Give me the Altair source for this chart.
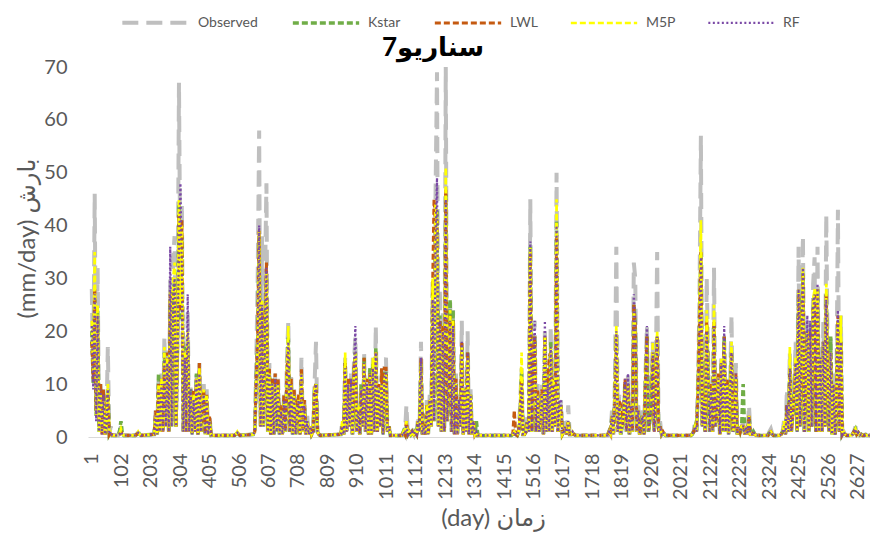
import altair as alt
import pandas as pd

SERIES = ["Observed", "Kstar", "LWL", "M5P", "RF"]
COLORS = ["#BFBFBF", "#70AD47", "#C55A11", "#FFFF00", "#7B4AA6"]
DASHES = [[16, 8], [6, 3], [6, 3], [6, 3], [2, 2.5]]
WIDTHS = [4, 2.25, 2.25, 2.25, 2.5]
X_TICKS = [1, 102, 203, 304, 405, 506, 607, 708, 809, 910, 1011, 1112, 1213, 1314,
           1415, 1516, 1617, 1718, 1819, 1920, 2021, 2122, 2223, 2324, 2425, 2526, 2627]
Y_TICKS = [0, 10, 20, 30, 40, 50, 60, 70]
STEP = 5  # sampling step (days) of the value lists below

# ---- wet season 1 (from day 1)
S1 = 1
OBS1 = [28, 12, 46, 5, 32, 2, 10, 1, 9, 0.5, 3, 17, 0.5, 2, 0.3]
KST1 = [20, 10, 26, 4, 24, 1, 9, 1, 8, 0.5, 2, 9, 0.5, 1, 0.3]
LWL1 = [18, 11, 28, 5, 22, 2, 10, 0.5, 9, 0.5, 2, 8, 0.5, 1, 0.3]
M5P1 = [22, 12, 35, 4, 25, 1, 8, 1, 7, 0.5, 2, 10, 1, 1, 0.3]
RF1 = [21, 9, 27, 3, 23, 1, 9, 0.5, 8, 0.5, 2, 9, 0.5, 1, 0.3]

# ---- small events in dry spells
SA = 91
OBSA = [0.3, 1, 2, 0.5, 0.3]
KSTA = [0.3, 1, 3, 0.5, 0.3]
LWLA = [0.3, 0.5, 1, 0.5, 0.3]
M5PA = [0.3, 0.5, 1.5, 0.5, 0.3]
RFA = [0.3, 0.5, 1, 0.5, 0.3]

SB = 150
OBSB = [0.3, 0.5, 1, 0.5, 0.3]
KSTB = [0.3, 0.5, 1, 0.5, 0.3]
LWLB = [0.3, 0.5, 0.8, 0.5, 0.3]
M5PB = [0.3, 0.5, 1, 0.5, 0.3]
RFB = [0.3, 0.5, 0.8, 0.5, 0.3]

# ---- wet season 2
S2 = 215
OBS2 = [0.5, 5, 0.5, 11, 1, 12, 1, 19, 2, 17, 1, 30, 3, 34, 38, 2, 20, 67, 28, 44,
        1, 18, 1, 24, 1, 10, 0.5, 9, 1, 12, 0.5, 14, 1, 7, 10, 0.5, 9, 0.5, 4, 0.3]
KST2 = [0.5, 4, 0.5, 12, 1, 10, 1, 16, 2, 15, 1, 26, 2, 28, 29, 2, 18, 44, 22, 38,
        1, 17, 1, 18, 1, 9, 0.5, 8, 1, 12, 0.5, 12, 1, 6, 8, 0.5, 7, 0.5, 3, 0.3]
LWL2 = [0.5, 5, 0.5, 10, 1, 11, 1, 14, 2, 16, 1, 27, 3, 27, 28, 2, 16, 42, 24, 41,
        1, 15, 1, 17, 1, 8, 0.5, 9, 1, 11, 0.5, 14, 1, 7, 9, 0.5, 8, 0.5, 4, 0.3]
M5P2 = [0.5, 4, 0.5, 10, 1, 11, 1, 17, 2, 15, 1, 28, 2, 30, 33, 2, 17, 45, 25, 40,
        1, 16, 1, 20, 1, 8, 0.5, 8, 1, 11, 0.5, 13, 1, 6, 9, 0.5, 8, 0.5, 3, 0.3]
RF2 = [0.5, 4, 0.5, 9, 1, 10, 1, 15, 2, 14, 1, 36, 2, 26, 30, 2, 16, 36, 48, 30,
       1, 15, 1, 27, 1, 9, 0.5, 7, 1, 11, 0.5, 12, 1, 6, 8, 0.5, 7, 0.5, 3, 0.3]

SC = 490
OBSC = [0.3, 0.5, 1, 0.5, 0.3]
KSTC = [0.3, 0.5, 0.8, 0.5, 0.3]
LWLC = [0.3, 0.5, 0.8, 0.5, 0.3]
M5PC = [0.3, 0.5, 1, 0.5, 0.3]
RFC = [0.3, 0.5, 0.8, 0.5, 0.3]

# ---- wet season 3
S3 = 555
OBS3 = [0.5, 1, 14, 30, 58, 2, 38, 3, 30, 48, 1, 14, 0.5, 11, 0.5, 12, 1, 11, 0.5, 6,
        0.5, 8, 1, 14, 22, 1, 12, 0.5, 9, 0.5, 6, 8, 0.5, 15, 1, 7, 0.5, 4, 0.5, 2,
        0.5, 1, 10, 18, 1, 0.5, 0.3]
KST3 = [0.5, 1, 11, 18, 38, 2, 24, 2, 20, 30, 1, 12, 0.5, 11, 0.5, 11, 1, 10, 0.5, 5,
        0.5, 7, 1, 11, 19, 1, 10, 0.5, 8, 0.5, 5, 7, 0.5, 11, 1, 6, 0.5, 3, 0.5, 2,
        0.5, 1, 9, 10, 1, 0.5, 0.3]
LWL3 = [0.5, 1, 11, 19, 39, 2, 24, 3, 21, 33, 1, 13, 0.5, 11, 0.5, 12, 1, 11, 0.5, 6,
        0.5, 8, 1, 12, 17, 1, 11, 0.5, 9, 0.5, 6, 8, 0.5, 13, 1, 7, 0.5, 3, 0.5, 2,
        0.5, 1, 9, 10, 1, 0.5, 0.3]
M5P3 = [0.5, 1, 10, 17, 39, 2, 26, 2, 19, 31, 1, 12, 0.5, 10, 0.5, 10, 1, 10, 0.5, 5,
        0.5, 7, 1, 12, 21, 1, 10, 0.5, 8, 0.5, 5, 7, 0.5, 12, 1, 6, 0.5, 3, 0.5, 2,
        0.5, 1, 9, 10, 1, 0.5, 0.3]
RF3 = [0.5, 1, 10, 18, 40, 2, 25, 2, 20, 32, 1, 12, 0.5, 10, 0.5, 11, 1, 10, 0.5, 5,
       0.5, 7, 1, 11, 18, 1, 10, 0.5, 8, 0.5, 5, 7, 0.5, 12, 1, 6, 0.5, 3, 0.5, 2,
       0.5, 1, 8, 10, 1, 0.5, 0.3]

# ---- wet season 4
S4 = 855
OBS4 = [0.5, 3, 0.5, 15, 1, 11, 2, 12, 0.5, 14, 19, 1, 6, 0.5, 10, 2, 16, 1, 11, 0.5,
        13, 0.5, 15, 1, 21, 1, 10, 2, 12, 0.5, 14, 15, 1, 2, 0.3]
KST4 = [0.5, 2, 0.5, 14, 1, 10, 2, 11, 0.5, 12, 16, 1, 5, 0.5, 10, 2, 15, 1, 10, 0.5,
        13, 0.5, 14, 1, 17, 1, 9, 2, 11, 0.5, 12, 12, 1, 2, 0.3]
LWL4 = [0.5, 2, 0.5, 14, 1, 11, 2, 11, 0.5, 13, 15, 1, 5, 0.5, 9, 2, 15, 1, 11, 0.5,
        12, 0.5, 13, 1, 16, 1, 10, 2, 13, 0.5, 13, 13, 1, 2, 0.3]
M5P4 = [0.5, 3, 0.5, 16, 1, 10, 2, 10, 0.5, 12, 16, 1, 6, 0.5, 9, 2, 14, 1, 10, 0.5,
        12, 0.5, 15, 1, 16, 1, 9, 2, 10, 0.5, 11, 12, 1, 2, 0.3]
RF4 = [0.5, 2, 0.5, 13, 1, 10, 2, 11, 0.5, 12, 21, 1, 5, 0.5, 9, 2, 14, 1, 10, 0.5,
       12, 0.5, 13, 1, 16, 1, 9, 2, 10, 0.5, 12, 12, 1, 2, 0.3]

# ---- wet season 5
S5 = 1065
OBS5 = [0.3, 1, 0.5, 6, 0.5, 1, 0.5, 1, 0.5, 2, 0.5, 4, 1, 18, 0.5, 2, 0.5, 7, 0.5, 8,
        2, 30, 3, 46, 69, 2, 28, 1, 24, 1, 70, 3, 12, 26, 1, 24, 0.5, 12, 0.5, 8,
        2, 22, 0.5, 10, 1, 20, 0.5, 9, 0.5, 3, 0.5, 1, 0.3]
KST5 = [0.3, 1, 0.5, 2, 0.5, 1, 0.5, 1, 0.5, 1, 0.5, 3, 1, 14, 0.5, 2, 0.5, 6, 0.5, 7,
        2, 27, 3, 41, 43, 2, 23, 1, 20, 1, 46, 3, 10, 26, 1, 24, 0.5, 10, 0.5, 7,
        2, 17, 0.5, 9, 1, 16, 0.5, 8, 0.5, 3, 0.5, 3, 0.3]
LWL5 = [0.3, 1, 0.5, 3, 0.5, 1, 0.5, 1, 0.5, 1, 0.5, 3, 1, 15, 0.5, 2, 0.5, 6, 0.5, 7,
        2, 28, 45, 40, 41, 2, 22, 1, 21, 1, 47, 3, 11, 23, 1, 22, 0.5, 11, 0.5, 7,
        2, 18, 0.5, 9, 1, 16, 0.5, 8, 0.5, 3, 0.5, 1, 0.3]
M5P5 = [0.3, 1, 0.5, 3, 0.5, 1, 0.5, 1, 0.5, 1, 0.5, 3, 1, 14, 0.5, 2, 0.5, 6, 0.5, 7,
        2, 30, 3, 44, 42, 2, 21, 1, 20, 1, 51, 3, 10, 24, 1, 22, 0.5, 10, 0.5, 7,
        2, 17, 0.5, 9, 1, 15, 0.5, 8, 0.5, 3, 0.5, 1, 0.3]
RF5 = [0.3, 1, 0.5, 2, 0.5, 1, 0.5, 1, 0.5, 1, 0.5, 3, 1, 15, 0.5, 2, 0.5, 5, 0.5, 7,
       2, 26, 3, 38, 49, 2, 22, 1, 20, 1, 45, 3, 10, 22, 1, 21, 0.5, 10, 0.5, 7,
       2, 18, 0.5, 9, 1, 16, 0.5, 8, 0.5, 3, 0.5, 1, 0.3]

# ---- wet season 6
S6 = 1440
OBS6 = [0.3, 0.5, 1, 0.5, 0.3, 1, 6, 13, 0.5, 0.5, 1, 4, 1, 45, 1, 16, 22, 1, 10, 1,
        4, 10, 0.5, 20, 1, 12, 1, 21, 1, 12, 2, 50, 1, 3, 7, 0.5, 1, 3, 0.5, 6,
        0.5, 0.5, 1, 0.5, 0.3]
KST6 = [0.3, 0.5, 1, 0.5, 0.3, 1, 4, 12, 0.5, 0.5, 1, 3, 1, 36, 1, 15, 19, 1, 8, 1,
        3, 8, 0.5, 19, 1, 10, 1, 18, 1, 10, 2, 41, 1, 4, 6, 0.5, 1, 2, 0.5, 3,
        0.5, 0.5, 1, 0.5, 0.3]
LWL6 = [0.3, 0.5, 5, 0.5, 0.3, 1, 4, 11, 0.5, 0.5, 1, 3, 1, 35, 1, 15, 19, 1, 9, 1,
        3, 9, 0.5, 19, 1, 11, 15, 16, 1, 11, 2, 38, 1, 4, 6, 0.5, 1, 2, 0.5, 3,
        0.5, 0.5, 1, 0.5, 0.3]
M5P6 = [0.3, 0.5, 1, 0.5, 0.3, 1, 5, 16, 0.5, 0.5, 1, 3, 1, 36, 1, 15, 18, 1, 8, 1,
        3, 8, 0.5, 19, 1, 10, 1, 17, 1, 11, 2, 45, 1, 4, 6, 0.5, 1, 2, 0.5, 3,
        0.5, 0.5, 1, 0.5, 0.3]
RF6 = [0.3, 0.5, 1, 0.5, 0.3, 1, 4, 10, 0.5, 0.5, 1, 3, 1, 37, 1, 14, 22, 1, 8, 1,
       3, 8, 0.5, 22, 1, 10, 1, 17, 1, 10, 2, 40, 1, 7, 7, 0.5, 1, 2, 0.5, 3,
       0.5, 0.5, 1, 0.5, 0.3]

# ---- wet season 7
S7 = 1770
OBS7 = [0.3, 1, 0.5, 5, 0.5, 10, 36, 1, 8, 0.5, 2, 5, 10, 1, 12, 0.5, 7, 1, 33, 30,
        1, 6, 0.5, 3, 5, 0.5, 12, 21, 1, 4, 7, 18, 1, 10, 35, 1, 3, 0.5, 1, 0.5, 0.3]
KST7 = [0.3, 1, 0.5, 4, 0.5, 8, 19, 1, 6, 0.5, 2, 4, 10, 1, 10, 0.5, 6, 1, 25, 21,
        1, 5, 0.5, 2, 4, 0.5, 10, 19, 1, 3, 6, 16, 1, 9, 19, 1, 2, 0.5, 1, 0.5, 0.3]
LWL7 = [0.3, 1, 0.5, 4, 0.5, 8, 19, 1, 7, 6, 2, 4, 11, 1, 10, 0.5, 6, 1, 25, 21,
        1, 5, 0.5, 2, 4, 0.5, 11, 19, 1, 3, 6, 16, 1, 9, 19, 1, 2, 0.5, 1, 0.5, 0.3]
M5P7 = [0.3, 1, 0.5, 4, 0.5, 9, 21, 1, 6, 0.5, 2, 4, 9, 1, 10, 0.5, 6, 1, 24, 20,
        1, 5, 0.5, 2, 4, 0.5, 12, 18, 1, 3, 6, 18, 1, 9, 20, 1, 2, 0.5, 1, 0.5, 0.3]
RF7 = [0.3, 1, 0.5, 4, 0.5, 8, 20, 1, 6, 0.5, 2, 4, 11, 1, 12, 0.5, 6, 1, 27, 22,
       1, 5, 0.5, 2, 4, 0.5, 11, 21, 1, 3, 6, 16, 1, 9, 19, 1, 2, 0.5, 1, 0.5, 0.3]

# ---- wet season 8
S8 = 2055
OBS8 = [0.3, 0.5, 1, 3, 1, 10, 25, 57, 2, 8, 1, 30, 14, 1, 10, 1, 32, 2, 6, 12,
        0.5, 15, 1, 18, 1, 11, 0.5, 9, 23, 1, 3, 14, 0.5, 2, 1, 2, 3, 0.5, 2, 0.5,
        6, 0.5, 0.5, 1, 0.5, 0.3]
KST8 = [0.3, 0.5, 1, 2, 1, 8, 21, 35, 2, 7, 1, 21, 12, 1, 9, 1, 21, 2, 5, 11,
        0.5, 14, 1, 19, 1, 10, 0.5, 8, 16, 1, 2, 11, 0.5, 2, 1, 2, 10, 0.5, 2, 0.5,
        4, 0.5, 0.5, 1, 0.5, 0.3]
LWL8 = [0.3, 0.5, 1, 2, 1, 9, 21, 35, 2, 7, 1, 22, 13, 1, 10, 1, 22, 2, 5, 12,
        0.5, 14, 1, 19, 1, 11, 0.5, 8, 16, 1, 2, 12, 0.5, 2, 1, 2, 2, 0.5, 2, 0.5,
        4, 0.5, 0.5, 1, 0.5, 0.3]
M5P8 = [0.3, 0.5, 1, 2, 1, 9, 22, 41, 2, 7, 1, 24, 13, 1, 9, 1, 25, 2, 5, 11,
        0.5, 15, 1, 18, 1, 10, 0.5, 8, 18, 1, 2, 11, 0.5, 2, 1, 2, 2, 0.5, 2, 0.5,
        4, 0.5, 0.5, 1, 0.5, 0.3]
RF8 = [0.3, 0.5, 1, 2, 1, 8, 20, 34, 2, 7, 1, 20, 12, 1, 9, 1, 21, 2, 5, 11,
       0.5, 14, 1, 21, 1, 10, 0.5, 8, 16, 1, 2, 12, 0.5, 2, 1, 2, 2, 0.5, 2, 0.5,
       4, 0.5, 0.5, 1, 0.5, 0.3]

SD = 2320
OBSD = [0.3, 1, 1.5, 0.5, 0.3]
KSTD = [0.3, 0.8, 1, 0.5, 0.3]
LWLD = [0.3, 0.8, 1, 0.5, 0.3]
M5PD = [0.3, 0.8, 1, 0.5, 0.3]
RFD = [0.3, 0.8, 1, 0.5, 0.3]

# ---- wet season 9
S9 = 2360
OBS9 = [0.3, 0.5, 1, 3, 0.5, 9, 1, 16, 1, 5, 10, 18, 1, 36, 2, 20, 38, 1, 14, 22,
        1, 22, 2, 29, 34, 1, 36, 1, 17, 1, 22, 2, 42, 14, 1, 19, 0.5, 12, 0.5, 10,
        43, 1, 23, 0.5, 1, 0.5, 0.3]
KST9 = [0.3, 0.5, 1, 2, 0.5, 6, 1, 13, 1, 4, 8, 14, 1, 27, 2, 16, 31, 1, 12, 20,
        1, 20, 2, 24, 27, 1, 28, 1, 15, 1, 18, 2, 27, 11, 1, 19, 0.5, 10, 0.5, 8,
        22, 1, 18, 0.5, 1, 0.5, 0.3]
LWL9 = [0.3, 0.5, 1, 2, 0.5, 6, 1, 13, 1, 4, 8, 14, 1, 27, 2, 16, 31, 1, 12, 20,
        1, 20, 2, 24, 27, 1, 28, 1, 15, 1, 18, 2, 27, 11, 1, 16, 0.5, 10, 0.5, 8,
        23, 1, 18, 0.5, 1, 0.5, 0.3]
M5P9 = [0.3, 0.5, 1, 3, 0.5, 5, 1, 17, 1, 4, 8, 15, 1, 28, 2, 16, 32, 1, 12, 20,
        1, 19, 2, 26, 28, 1, 28, 1, 15, 1, 18, 2, 29, 11, 1, 16, 0.5, 10, 0.5, 8,
        22, 1, 23, 0.5, 1, 0.5, 0.3]
RF9 = [0.3, 0.5, 1, 2, 0.5, 6, 1, 13, 1, 4, 8, 14, 1, 28, 2, 16, 32, 1, 12, 23,
       1, 22, 2, 24, 27, 1, 29, 1, 15, 1, 18, 2, 26, 11, 1, 16, 0.5, 10, 0.5, 8,
       24, 1, 18, 0.5, 1, 0.5, 0.3]

SE = 2605
OBSE = [0.3, 0.5, 1, 2, 0.5, 1, 0.3, 0.5, 0.3, 0.3, 0.5, 0.3, 0.3, 0.3]
KSTE = [0.3, 0.5, 1, 1.5, 0.5, 0.8, 0.3, 0.5, 0.3, 0.3, 0.4, 0.3, 0.3, 0.3]
LWLE = [0.3, 0.5, 1, 1.5, 0.5, 0.8, 0.3, 0.5, 0.3, 0.3, 0.4, 0.3, 0.3, 0.3]
M5PE = [0.3, 0.5, 1, 1.5, 0.5, 0.8, 0.3, 0.5, 0.3, 0.3, 0.4, 0.3, 0.3, 0.3]
RFE = [0.3, 0.5, 1, 1.5, 0.5, 0.8, 0.3, 0.5, 0.3, 0.3, 0.4, 0.3, 0.3, 0.3]

SEASONS = [
    (S1, OBS1, KST1, LWL1, M5P1, RF1),
    (SA, OBSA, KSTA, LWLA, M5PA, RFA),
    (SB, OBSB, KSTB, LWLB, M5PB, RFB),
    (S2, OBS2, KST2, LWL2, M5P2, RF2),
    (SC, OBSC, KSTC, LWLC, M5PC, RFC),
    (S3, OBS3, KST3, LWL3, M5P3, RF3),
    (S4, OBS4, KST4, LWL4, M5P4, RF4),
    (S5, OBS5, KST5, LWL5, M5P5, RF5),
    (S6, OBS6, KST6, LWL6, M5P6, RF6),
    (S7, OBS7, KST7, LWL7, M5P7, RF7),
    (S8, OBS8, KST8, LWL8, M5P8, RF8),
    (SD, OBSD, KSTD, LWLD, M5PD, RFD),
    (S9, OBS9, KST9, LWL9, M5P9, RF9),
    (SE, OBSE, KSTE, LWLE, M5PE, RFE),
]

rows = []
for start, *vals in SEASONS:
    n = min(len(v) for v in vals)
    for i in range(n):
        day = start + STEP * i
        for name, v in zip(SERIES, vals):
            rows.append({"day": day, "series": name, "value": v[i]})
df = pd.DataFrame(rows)

FONT = "Lato, 'DejaVu Sans', sans-serif"
GREY = "#595959"

legend = alt.Legend(
    title=None, orient="none", legendX=32, legendY=-80, direction="horizontal",
    symbolType="stroke", symbolSize=4400, labelFont=FONT, labelFontSize=14,
    labelColor=GREY, columnPadding=27, labelOffset=7, padding=0,
)

base = alt.Chart(df).encode(
    x=alt.X("day:Q",
            scale=alt.Scale(domain=[-12, 2670], nice=False, zero=False),
            axis=alt.Axis(values=X_TICKS, format="d", labelAngle=270, labelAlign="right",
                          labelBaseline="middle", labelPadding=16, labelFontSize=20,
                          labelFont=FONT, labelColor=GREY, labelOverlap=False,
                          labelFlush=False, ticks=False, grid=False,
                          domainColor="#D9D9D9", domainWidth=1,
                          title="(day) زمان", titleFont=FONT, titleFontSize=24,
                          titleColor=GREY, titleFontWeight="normal",
                          titleX=405, titleY=81, titleBaseline="middle",
                          titleAlign="center")),
    y=alt.Y("value:Q",
            scale=alt.Scale(domain=[0, 70], nice=False),
            axis=alt.Axis(values=Y_TICKS, labelFontSize=20, labelFont=FONT,
                          labelColor=GREY, labelPadding=21, domain=False,
                          ticks=False, grid=False,
                          title="(mm/day) بارش", titleFont=FONT, titleFontSize=24,
                          titleColor=GREY, titleFontWeight="normal",
                          titleX=-61, titleY=171, titleAngle=270,
                          titleBaseline="middle", titleAlign="center")),
    color=alt.Color("series:N", scale=alt.Scale(domain=SERIES, range=COLORS),
                    legend=legend),
    strokeDash=alt.StrokeDash("series:N", scale=alt.Scale(domain=SERIES, range=DASHES),
                              legend=legend),
    strokeWidth=alt.StrokeWidth("series:N", scale=alt.Scale(domain=SERIES, range=WIDTHS),
                                legend=legend),
)

layers = [base.transform_filter(alt.datum.series == s).mark_line(strokeCap="butt")
          for s in SERIES]

chart = alt.layer(*layers).properties(
    width=782, height=370,
    title=alt.TitleParams("سناریو7", font=FONT, fontSize=26, fontWeight="bold",
                          color="black", anchor="middle", dx=-46, offset=-74,
                          frame="group"),
    autosize=alt.AutoSizeParams(type="none"),
    padding={"left": 80, "top": 59, "right": 0, "bottom": 98},
).configure_view(stroke=None)

chart.save("out.html", embed_options={"renderer": "svg", "actions": False})
